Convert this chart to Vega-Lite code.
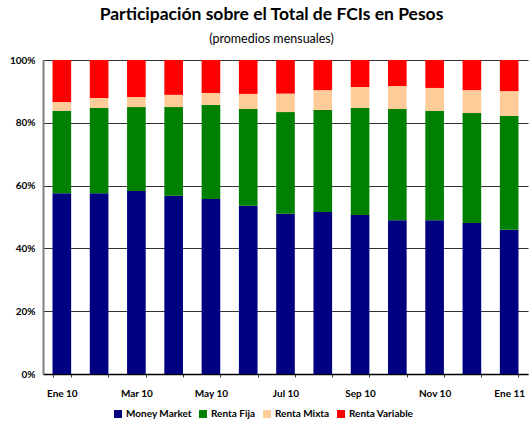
{
  "$schema": "https://vega.github.io/schema/vega-lite/v6.json",
  "width": 485,
  "height": 314,
  "autosize": "none",
  "padding": {"left": 43, "top": 60, "right": 4, "bottom": 47},
  "background": "white",
  "title": {
    "text": "Participación sobre el Total de FCIs en Pesos",
    "subtitle": "(promedios mensuales)",
    "font": "Lato",
    "fontSize": 17.5,
    "fontWeight": "bold",
    "color": "black",
    "subtitleFont": "Lato",
    "subtitleFontSize": 12.5,
    "subtitleColor": "black",
    "subtitlePadding": 9,
    "anchor": "middle",
    "dx": -14,
    "offset": 10
  },
  "data": {
    "values": [
      {"mes": "Ene 10", "tipo": "Money Market", "orden": 1, "valor": 57.6},
      {"mes": "Ene 10", "tipo": "Renta Fija", "orden": 2, "valor": 26.2},
      {"mes": "Ene 10", "tipo": "Renta Mixta", "orden": 3, "valor": 2.8},
      {"mes": "Ene 10", "tipo": "Renta Variable", "orden": 4, "valor": 13.4},
      {"mes": "Feb 10", "tipo": "Money Market", "orden": 1, "valor": 57.6},
      {"mes": "Feb 10", "tipo": "Renta Fija", "orden": 2, "valor": 27.1},
      {"mes": "Feb 10", "tipo": "Renta Mixta", "orden": 3, "valor": 3.2},
      {"mes": "Feb 10", "tipo": "Renta Variable", "orden": 4, "valor": 12.1},
      {"mes": "Mar 10", "tipo": "Money Market", "orden": 1, "valor": 58.3},
      {"mes": "Mar 10", "tipo": "Renta Fija", "orden": 2, "valor": 26.7},
      {"mes": "Mar 10", "tipo": "Renta Mixta", "orden": 3, "valor": 3.2},
      {"mes": "Mar 10", "tipo": "Renta Variable", "orden": 4, "valor": 11.8},
      {"mes": "Abr 10", "tipo": "Money Market", "orden": 1, "valor": 56.8},
      {"mes": "Abr 10", "tipo": "Renta Fija", "orden": 2, "valor": 28.2},
      {"mes": "Abr 10", "tipo": "Renta Mixta", "orden": 3, "valor": 3.9},
      {"mes": "Abr 10", "tipo": "Renta Variable", "orden": 4, "valor": 11.1},
      {"mes": "May 10", "tipo": "Money Market", "orden": 1, "valor": 55.7},
      {"mes": "May 10", "tipo": "Renta Fija", "orden": 2, "valor": 30.0},
      {"mes": "May 10", "tipo": "Renta Mixta", "orden": 3, "valor": 3.8},
      {"mes": "May 10", "tipo": "Renta Variable", "orden": 4, "valor": 10.5},
      {"mes": "Jun 10", "tipo": "Money Market", "orden": 1, "valor": 53.6},
      {"mes": "Jun 10", "tipo": "Renta Fija", "orden": 2, "valor": 30.8},
      {"mes": "Jun 10", "tipo": "Renta Mixta", "orden": 3, "valor": 4.8},
      {"mes": "Jun 10", "tipo": "Renta Variable", "orden": 4, "valor": 10.8},
      {"mes": "Jul 10", "tipo": "Money Market", "orden": 1, "valor": 51.0},
      {"mes": "Jul 10", "tipo": "Renta Fija", "orden": 2, "valor": 32.4},
      {"mes": "Jul 10", "tipo": "Renta Mixta", "orden": 3, "valor": 5.9},
      {"mes": "Jul 10", "tipo": "Renta Variable", "orden": 4, "valor": 10.7},
      {"mes": "Ago 10", "tipo": "Money Market", "orden": 1, "valor": 51.6},
      {"mes": "Ago 10", "tipo": "Renta Fija", "orden": 2, "valor": 32.5},
      {"mes": "Ago 10", "tipo": "Renta Mixta", "orden": 3, "valor": 6.3},
      {"mes": "Ago 10", "tipo": "Renta Variable", "orden": 4, "valor": 9.6},
      {"mes": "Sep 10", "tipo": "Money Market", "orden": 1, "valor": 50.6},
      {"mes": "Sep 10", "tipo": "Renta Fija", "orden": 2, "valor": 34.1},
      {"mes": "Sep 10", "tipo": "Renta Mixta", "orden": 3, "valor": 6.7},
      {"mes": "Sep 10", "tipo": "Renta Variable", "orden": 4, "valor": 8.6},
      {"mes": "Oct 10", "tipo": "Money Market", "orden": 1, "valor": 49.0},
      {"mes": "Oct 10", "tipo": "Renta Fija", "orden": 2, "valor": 35.4},
      {"mes": "Oct 10", "tipo": "Renta Mixta", "orden": 3, "valor": 7.3},
      {"mes": "Oct 10", "tipo": "Renta Variable", "orden": 4, "valor": 8.3},
      {"mes": "Nov 10", "tipo": "Money Market", "orden": 1, "valor": 49.0},
      {"mes": "Nov 10", "tipo": "Renta Fija", "orden": 2, "valor": 34.8},
      {"mes": "Nov 10", "tipo": "Renta Mixta", "orden": 3, "valor": 7.3},
      {"mes": "Nov 10", "tipo": "Renta Variable", "orden": 4, "valor": 8.9},
      {"mes": "Dic 10", "tipo": "Money Market", "orden": 1, "valor": 48.1},
      {"mes": "Dic 10", "tipo": "Renta Fija", "orden": 2, "valor": 35.0},
      {"mes": "Dic 10", "tipo": "Renta Mixta", "orden": 3, "valor": 7.3},
      {"mes": "Dic 10", "tipo": "Renta Variable", "orden": 4, "valor": 9.6},
      {"mes": "Ene 11", "tipo": "Money Market", "orden": 1, "valor": 45.9},
      {"mes": "Ene 11", "tipo": "Renta Fija", "orden": 2, "valor": 36.3},
      {"mes": "Ene 11", "tipo": "Renta Mixta", "orden": 3, "valor": 7.9},
      {"mes": "Ene 11", "tipo": "Renta Variable", "orden": 4, "valor": 9.9}
    ]
  },
  "mark": {"type": "bar"},
  "encoding": {
    "x": {
      "field": "mes",
      "type": "ordinal",
      "sort": null,
      "scale": {"paddingInner": 0.5, "paddingOuter": 0.255},
      "axis": {
        "title": null,
        "labelAngle": 0,
        "labelFont": "Lato",
        "labelFontSize": 10,
        "labelFontWeight": "bold",
        "labelColor": "black",
        "labelPadding": 11,
        "labelExpr": "indexof(['Ene 10','Mar 10','May 10','Jul 10','Sep 10','Nov 10','Ene 11'], datum.value) >= 0 ? datum.value : ''",
        "tickBand": "extent",
        "tickSize": 3,
        "tickColor": "#444",
        "domainColor": "black",
        "domainWidth": 1.5,
        "grid": false
      }
    },
    "y": {
      "field": "valor",
      "type": "quantitative",
      "stack": "normalize",
      "scale": {"domain": [0, 1], "nice": false},
      "axis": {
        "title": null,
        "values": [0, 0.2, 0.4, 0.6, 0.8, 1],
        "format": ".0%",
        "labelFont": "Lato",
        "labelFontSize": 10,
        "labelFontWeight": "bold",
        "labelColor": "black",
        "labelPadding": 8,
        "ticks": false,
        "domainColor": "#808080",
        "domainWidth": 2,
        "grid": true,
        "gridColor": "#333333",
        "gridWidth": 1,
        "gridOpacity": 1
      }
    },
    "color": {
      "field": "tipo",
      "type": "nominal",
      "scale": {
        "domain": ["Money Market", "Renta Fija", "Renta Mixta", "Renta Variable"],
        "range": ["#000080", "#008000", "#FFCC99", "#FF0000"]
      },
      "legend": {
        "title": null,
        "orient": "none",
        "direction": "horizontal",
        "legendX": 70,
        "legendY": 349,
        "symbolType": "square",
        "symbolSize": 64,
        "symbolStrokeWidth": 0,
        "symbolOpacity": 1,
        "labelFont": "Lato",
        "labelFontSize": 10,
        "labelFontWeight": "bold",
        "labelColor": "black",
        "labelOffset": 3,
        "columnPadding": 6
      }
    },
    "order": {"field": "orden", "type": "quantitative"}
  },
  "config": {
    "view": {"stroke": null}
  }
}
